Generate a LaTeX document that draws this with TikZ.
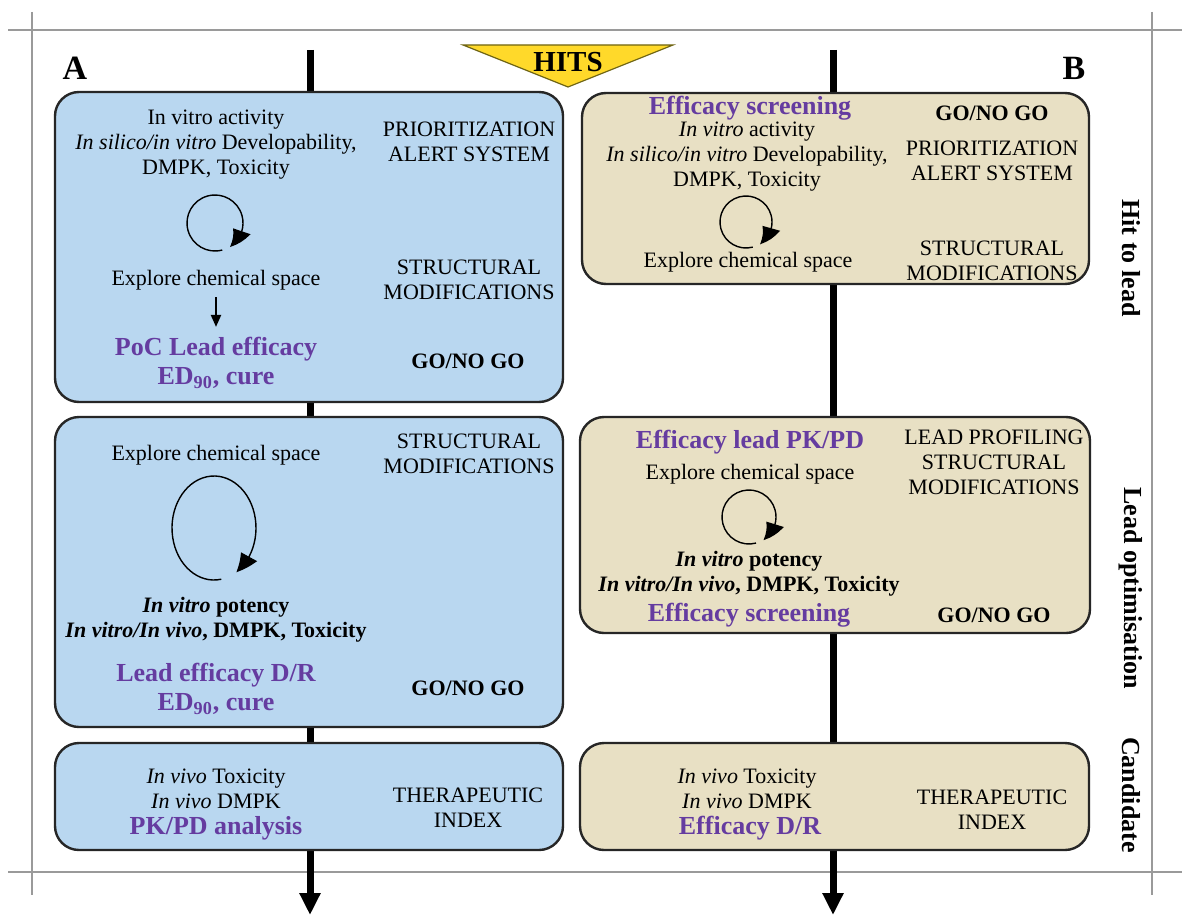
\documentclass[tikz,border=0pt]{standalone}
\usepackage{fontspec}
\setmainfont{Liberation Serif}
\usetikzlibrary{arrows.meta,bending}
\definecolor{boxblue}{HTML}{B9D7F0}
\definecolor{boxtan}{HTML}{E8E0C4}
\definecolor{purpc}{HTML}{653CA0}
\definecolor{hity}{HTML}{FFD92A}
\definecolor{hitline}{HTML}{6E6414}
\definecolor{framegray}{HTML}{9A9A9A}
\begin{document}
\begin{tikzpicture}[x=0.5pt,y=-0.5pt,
  stagebox/.style={draw=black!85, line width=1.2pt, rounded corners=12pt},
  framel/.style={draw=framegray, line width=0.8pt},
  flow/.style={line width=3.5pt, -{Triangle[length=11pt,width=10pt]}},
  cyc/.style={line width=0.7pt, -{Triangle[length=10pt,width=9pt,bend]}},
  smallarr/.style={line width=1pt, -{Triangle[length=6pt,width=5pt]}},
  txt/.style={font=\fontsize{11}{12.5}\selectfont, align=center, inner sep=0pt},
  bld/.style={font=\fontsize{11}{12.5}\selectfont\bfseries, align=center, inner sep=0pt},
  purptxt/.style={font=\fontsize{13}{14.5}\selectfont\bfseries, text=purpc, align=center, inner sep=0pt},
  stagelbl/.style={font=\fontsize{13}{15}\selectfont\bfseries, rotate=-90, inner sep=0pt},
  panel/.style={font=\fontsize{17}{20}\selectfont\bfseries, inner sep=0pt}]
\path[use as bounding box, fill=white] (0,0) rectangle (1182,915);
% frame lines
\draw[framel] (8,30) -- (1182,30);
\draw[framel] (8,872) -- (1182,872);
\draw[framel] (32,12) -- (32,895);
\draw[framel] (1152,12) -- (1152,895);
% main flow lines
\coordinate (Atop) at (310,50); \coordinate (Abot) at (310,915);
\coordinate (Btop) at (833,50); \coordinate (Bbot) at (833,915);
\draw[flow] (Atop) -- (Abot);
\draw[flow] (Btop) -- (Bbot);
% HITS triangle
\draw[fill=hity, draw=hitline, line width=0.6pt] (463,45) -- (673,45) -- (568,87) -- cycle;
\node[font=\fontsize{14.5}{16}\selectfont\bfseries, inner sep=0pt] (hits) at (568,62) {HITS};
\node[panel] (pA) at (75,68) {A};
\node[panel] (pB) at (1074,68) {B};
% boxes
\draw[stagebox, fill=boxblue] (55,92) rectangle (563,402);
\draw[stagebox, fill=boxblue] (55,417) rectangle (563,727);
\draw[stagebox, fill=boxblue] (55,743) rectangle (563,850);
\draw[stagebox, fill=boxtan] (582,93) rectangle (1089,284);
\draw[stagebox, fill=boxtan] (580,417) rectangle (1090,633);
\draw[stagebox, fill=boxtan] (580,743) rectangle (1089,850);
% ---- A1
\node[txt] (a1t) at (216,145) {In vitro activity\\\textit{In silico/in vitro} Developability,\\DMPK, Toxicity};
\draw[cyc] (215,223) ++(-285:28) arc[start angle=-285, end angle=58, radius=28];
\node[txt] (a1e) at (216,280) {Explore chemical space};
\node[purptxt] (a1p) at (216,363) {PoC Lead efficacy\\ED\textsubscript{90}, cure};
\draw[smallarr, shorten <=3.5pt, shorten >=5pt] (a1e.south) -- (a1p.north);
\node[txt] (a1pr) at (469,142) {PRIORITIZATION\\ALERT SYSTEM};
\node[txt] (a1sm) at (469,280) {STRUCTURAL\\MODIFICATIONS};
\node[bld] (a1go) at (468,361) {GO/NO GO};
% ---- A2
\node[txt] (a2e) at (216,455) {Explore chemical space};
\draw[cyc] (214,528) ++(-280:42 and 52) arc[start angle=-280, end angle=58, x radius=42, y radius=52];
\node[bld] (a2p) at (216,620) {\textit{In vitro} potency\\\textit{In vitro/In vivo}, DMPK, Toxicity};
\node[purptxt] (a2l) at (216,689) {Lead efficacy D/R\\ED\textsubscript{90}, cure};
\node[txt] (a2sm) at (469,454) {STRUCTURAL\\MODIFICATIONS};
\node[bld] (a2go) at (468,688) {GO/NO GO};
% ---- A3
\node[txt] (a3t) at (216,789) {\textit{In vivo} Toxicity\\\textit{In vivo} DMPK};
\node[purptxt] (a3p) at (216,828) {PK/PD analysis};
\node[txt] (a3ti) at (468,808) {THERAPEUTIC\\INDEX};
% ---- B1
\node[purptxt] (b1e) at (750,108) {Efficacy screening};
\node[txt] (b1t) at (747,157) {\textit{In vitro} activity\\\textit{In silico/in vitro} Developability,\\DMPK, Toxicity};
\draw[cyc] (746,222) ++(-285:26) arc[start angle=-285, end angle=58, radius=26];
\node[txt] (b1x) at (748,262) {Explore chemical space};
\node[bld] (b1go) at (992,113) {GO/NO GO};
\node[txt] (b1pr) at (992,161) {PRIORITIZATION\\ALERT SYSTEM};
\node[txt] (b1sm) at (992,261) {STRUCTURAL\\MODIFICATIONS};
% ---- B2
\node[purptxt] (b2l) at (750,442) {Efficacy lead PK/PD};
\node[txt] (b2x) at (750,474) {Explore chemical space};
\draw[cyc] (749,517) ++(-285:27) arc[start angle=-285, end angle=58, radius=27];
\node[bld] (b2p) at (749,574) {\textit{In vitro} potency\\\textit{In vitro/In vivo}, DMPK, Toxicity};
\node[purptxt] (b2e) at (749,615) {Efficacy screening};
\node[txt] (b2pr) at (994,462) {LEAD PROFILING\\STRUCTURAL\\MODIFICATIONS};
\node[bld] (b2go) at (994,615) {GO/NO GO};
% ---- B3
\node[txt] (b3t) at (747,789) {\textit{In vivo} Toxicity\\\textit{In vivo} DMPK};
\node[purptxt] (b3p) at (750,828) {Efficacy D/R};
\node[txt] (b3ti) at (992,810) {THERAPEUTIC\\INDEX};
% stage labels
\node[stagelbl] (s1) at (1131,258) {Hit to lead};
\node[stagelbl] (s2) at (1131,588) {Lead optimisation};
\node[stagelbl] (s3) at (1131,795) {Candidate};
\end{tikzpicture}
\end{document}
